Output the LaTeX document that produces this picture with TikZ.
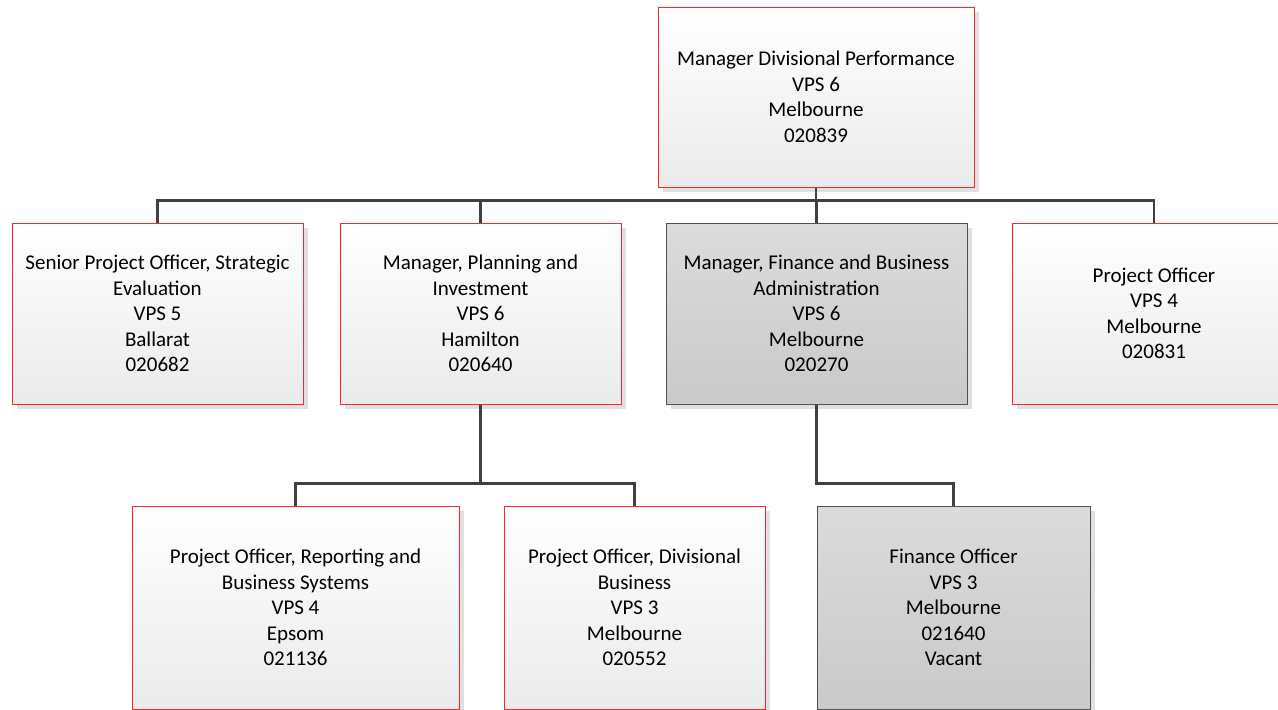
\documentclass[tikz,border=0pt]{standalone}
\usepackage{fontspec}
\setmainfont{Carlito}
\usepackage{xcolor}
\usepackage{tikz}
\usetikzlibrary{positioning}
\usetikzlibrary{shadows}

\definecolor{boxred}{HTML}{FF2626}
\definecolor{boxgray}{HTML}{505050}
\definecolor{linegray}{HTML}{404040}

\begin{document}
\begin{tikzpicture}[x=1pt,y=-1pt,
  role/.style={draw=boxred,line width=1pt,top color=white,bottom color=black!8,
    drop shadow={shadow xshift=5pt,shadow yshift=-5pt,fill=black!12,opacity=1},
    minimum height=181pt,inner sep=0pt,align=center,
    font=\fontsize{21}{25.5}\selectfont},
  finrole/.style={role,draw=boxgray,top color=black!14,bottom color=black!21},
  link/.style={draw=linegray,line width=2.6pt}]
\useasboundingbox (0,0) rectangle (1278,710);
% top
\node[role,minimum width=316pt,minimum height=180pt] (mgr) at (816,97) {Manager Divisional Performance\\VPS 6\\Melbourne\\020839};
% first level
\node[role,minimum width=291pt]   (spo)  at (157.5,313.5) {Senior Project Officer, Strategic\\Evaluation\\VPS 5\\Ballarat\\020682};
\node[role,minimum width=281pt]   (mpi)  at (480.5,313.5) {Manager, Planning and\\Investment\\VPS 6\\Hamilton\\020640};
\node[finrole,minimum width=301pt] (mfba) at (816.5,313.5) {Manager, Finance and Business\\Administration\\VPS 6\\Melbourne\\020270};
\node[role,minimum width=284pt]   (po)   at (1154,313.5) {Project Officer\\VPS 4\\Melbourne\\020831};
% second level
\node[role,minimum width=327pt,minimum height=203pt]    (pors) at (295.5,607.5) {Project Officer, Reporting and\\Business Systems\\VPS 4\\Epsom\\021136};
\node[role,minimum width=261pt,minimum height=203pt]    (podb) at (634.5,607.5) {Project Officer, Divisional\\Business\\VPS 3\\Melbourne\\020552};
\node[finrole,minimum width=273pt,minimum height=203pt] (fo)   at (953.5,607.5) {Finance Officer\\VPS 3\\Melbourne\\021640\\Vacant};
% connectors
\path (mgr.south) ++(0,13) coordinate (bus);
\foreach \n in {spo,mpi,mfba,po}
  \draw[link] (mgr.south) -- (bus) -| (\n.north);
\draw[link] (mpi.south) -- ++(0,79) -| (pors.north);
\draw[link] (mpi.south) -- ++(0,79) -| (podb.north);
\draw[link] (mfba.south) -- ++(0,79) -| (fo.north);
\end{tikzpicture}
\end{document}
